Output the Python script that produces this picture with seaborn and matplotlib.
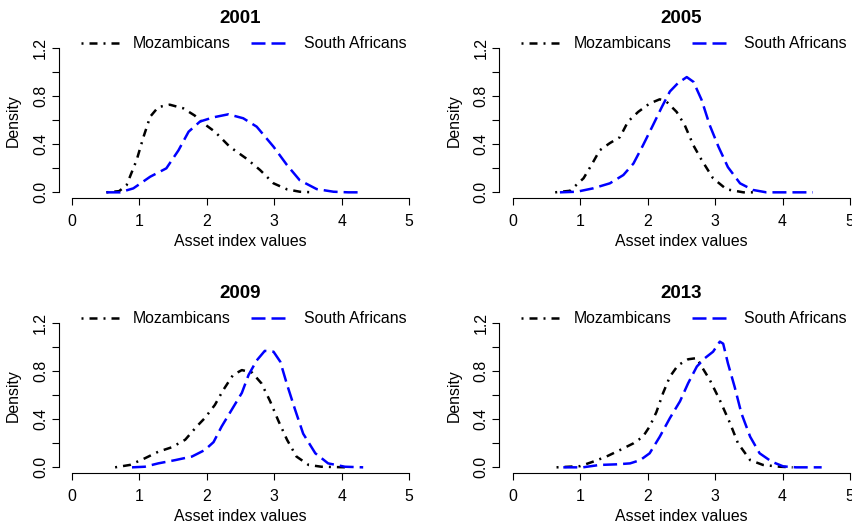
import numpy as np
import pandas as pd
import matplotlib
matplotlib.use("Agg")
import matplotlib.pyplot as plt
import seaborn as sns

# ---------------------------------------------------------------------------
# Density curves (asset index value, density)
# ---------------------------------------------------------------------------
years = ["2001", "2005", "2009", "2013"]
groups = ["Mozambicans", "South Africans"]

moz_x_2001 = [0.51, 0.70, 0.81, 0.96, 1.06, 1.16, 1.28, 1.45, 1.65, 1.82, 1.95,
              2.12, 2.34, 2.59, 2.79, 2.99, 3.19, 3.38, 3.58]
moz_y_2001 = [0.0, 0.01, 0.06, 0.27, 0.46, 0.63, 0.71, 0.73, 0.70, 0.64, 0.575,
              0.505, 0.38, 0.28, 0.186, 0.075, 0.025, 0.005, 0.0]
sa_x_2001 = [0.51, 0.71, 0.91, 1.16, 1.40, 1.58, 1.73, 1.90, 2.10, 2.32, 2.54,
             2.74, 2.99, 3.19, 3.38, 3.63, 3.88, 4.10, 4.32]
sa_y_2001 = [0.0, 0.0, 0.033, 0.13, 0.20, 0.35, 0.505, 0.59, 0.625, 0.65, 0.617,
             0.547, 0.38, 0.227, 0.10, 0.027, 0.005, 0.0, 0.0]

moz_x_2005 = [0.63, 0.85, 1.05, 1.17, 1.29, 1.44, 1.59, 1.71, 1.86, 2.03, 2.18,
              2.28, 2.43, 2.55, 2.68, 2.80, 2.97, 3.17, 3.42, 3.61]
moz_y_2005 = [0.0, 0.013, 0.117, 0.23, 0.35, 0.41, 0.46, 0.59, 0.67, 0.74, 0.775,
              0.755, 0.67, 0.56, 0.39, 0.27, 0.117, 0.025, 0.0, 0.0]
sa_x_2005 = [0.70, 0.95, 1.19, 1.44, 1.64, 1.79, 1.93, 2.08, 2.21, 2.33, 2.45,
             2.58, 2.68, 2.80, 2.92, 3.05, 3.19, 3.37, 3.56, 3.76, 4.10, 4.45]
sa_y_2005 = [0.0, 0.005, 0.033, 0.075, 0.144, 0.24, 0.39, 0.56, 0.71, 0.84, 0.91,
             0.96, 0.92, 0.77, 0.56, 0.38, 0.21, 0.075, 0.02, 0.0, 0.0, 0.0]

moz_x_2009 = [0.64, 0.86, 1.08, 1.28, 1.48, 1.68, 1.85, 1.97, 2.12, 2.24, 2.39,
              2.52, 2.67, 2.81, 2.94, 3.06, 3.19, 3.33, 3.51, 3.70, 4.08]
moz_y_2009 = [0.0, 0.02, 0.075, 0.13, 0.167, 0.23, 0.34, 0.41, 0.52, 0.64, 0.77,
              0.81, 0.79, 0.70, 0.55, 0.39, 0.23, 0.09, 0.02, 0.005, 0.0]
sa_x_2009 = [0.89, 1.08, 1.28, 1.53, 1.78, 1.97, 2.10, 2.22, 2.37, 2.52, 2.62,
             2.74, 2.86, 2.99, 3.09, 3.19, 3.31, 3.43, 3.61, 3.80, 4.05, 4.32]
sa_y_2009 = [0.0, 0.005, 0.033, 0.06, 0.09, 0.144, 0.21, 0.34, 0.48, 0.62, 0.77,
             0.89, 0.97, 0.963, 0.88, 0.69, 0.48, 0.28, 0.117, 0.033, 0.005, 0.0]

moz_x_2013 = [0.65, 1.00, 1.19, 1.39, 1.59, 1.79, 1.93, 2.03, 2.13, 2.23, 2.33,
              2.45, 2.60, 2.73, 2.80, 2.92, 3.07, 3.22, 3.34, 3.52, 3.71, 3.96, 4.15]
moz_y_2013 = [0.0, 0.01, 0.047, 0.09, 0.144, 0.20, 0.255, 0.34, 0.46, 0.62, 0.755,
              0.85, 0.90, 0.91, 0.84, 0.73, 0.56, 0.37, 0.20, 0.06, 0.02, 0.005, 0.0]
sa_x_2013 = [0.75, 1.04, 1.29, 1.54, 1.74, 1.89, 2.03, 2.18, 2.33, 2.48, 2.60,
             2.73, 2.85, 2.97, 3.07, 3.12, 3.19, 3.29, 3.39, 3.52, 3.66, 3.84,
             4.01, 4.20, 4.58]
sa_y_2013 = [0.0, 0.0, 0.02, 0.025, 0.033, 0.06, 0.117, 0.255, 0.41, 0.55, 0.70,
             0.84, 0.91, 0.963, 1.047, 1.03, 0.867, 0.67, 0.45, 0.255, 0.117, 0.047,
             0.008, 0.0, 0.0]

moz_x = [moz_x_2001, moz_x_2005, moz_x_2009, moz_x_2013]
moz_y = [moz_y_2001, moz_y_2005, moz_y_2009, moz_y_2013]
sa_x = [sa_x_2001, sa_x_2005, sa_x_2009, sa_x_2013]
sa_y = [sa_y_2001, sa_y_2005, sa_y_2009, sa_y_2013]

x_ticks = [0, 1, 2, 3, 4, 5]
y_ticks = [0.0, 0.2, 0.4, 0.6, 0.8, 1.0, 1.2]

# ---------------------------------------------------------------------------
# Style (R base graphics look)
# ---------------------------------------------------------------------------
sns.set_style("ticks")
plt.rcParams['font.family'] = ['Liberation Sans', 'DejaVu Sans']
plt.rcParams['font.size'] = 11.4
plt.rcParams['text.color'] = 'black'
plt.rcParams['axes.labelcolor'] = 'black'

W, H = 852, 528
fig = plt.figure(figsize=(W / 100, H / 100), dpi=100)

# axes rectangles in pixels: left, right, top, bottom
lefts = [58.5, 499.2]
rights = [422.5, 863.5]
tops = [42.5, 317.5]
bottoms = [198.1, 473.1]

moz_ls = (0, (0.8, 2.4, 3.2, 2.4))
sa_ls = (0, (5.6, 2.4))
LW = 1.8

for i, year in enumerate(years):
    r, c = divmod(i, 2)
    l, rr, t, b = lefts[c], rights[c], tops[r], bottoms[r]
    ax = fig.add_axes([l / W, 1 - b / H, (rr - l) / W, (b - t) / H])

    df_m = pd.DataFrame({'x': moz_x[i], 'y': moz_y[i]})
    df_s = pd.DataFrame({'x': sa_x[i], 'y': sa_y[i]})
    sns.lineplot(data=df_m, x='x', y='y', ax=ax, color='black', lw=LW,
                 linestyle=moz_ls, label=groups[0])
    sns.lineplot(data=df_s, x='x', y='y', ax=ax, color='#0000ff', lw=LW,
                 linestyle=sa_ls, label=groups[1])

    ax.set_xlim(-0.2, 5.2)
    ax.set_ylim(-0.048, 1.248)
    ax.set_xticks(x_ticks)
    ax.set_yticks(y_ticks)
    ax.set_yticklabels([f"{v:.1f}" if j % 2 == 0 else "" for j, v in enumerate(y_ticks)])
    for sp in ['top', 'right']:
        ax.spines[sp].set_visible(False)
    ax.spines['left'].set_bounds(0, 1.2)
    ax.spines['bottom'].set_bounds(0, 5)
    for sp in ['left', 'bottom']:
        ax.spines[sp].set_color('black')
        ax.spines[sp].set_linewidth(0.8)
    ax.tick_params(axis='both', direction='out', length=5, width=0.8,
                   color='black', labelcolor='black', labelsize=11.4,
                   bottom=True, left=True)
    ax.tick_params(axis='x', pad=6.8)
    ax.tick_params(axis='y', pad=2.5)
    plt.setp(ax.get_yticklabels(), rotation=90, va='center')

    ax.set_xlabel('Asset index values', fontsize=11.4, labelpad=3)
    ax.set_ylabel('Density', fontsize=11.4, labelpad=9)
    ax.set_title(year, fontsize=13.5, fontweight='bold', pad=14)
    ax.patch.set_alpha(0)

    ax.legend(loc='center', bbox_to_anchor=(0.508, 0.993), ncol=2, frameon=False,
              fontsize=11.4, handlelength=2.4, handletextpad=0.9,
              columnspacing=1.3, borderaxespad=0)

fig.savefig('out.png', dpi=100)
